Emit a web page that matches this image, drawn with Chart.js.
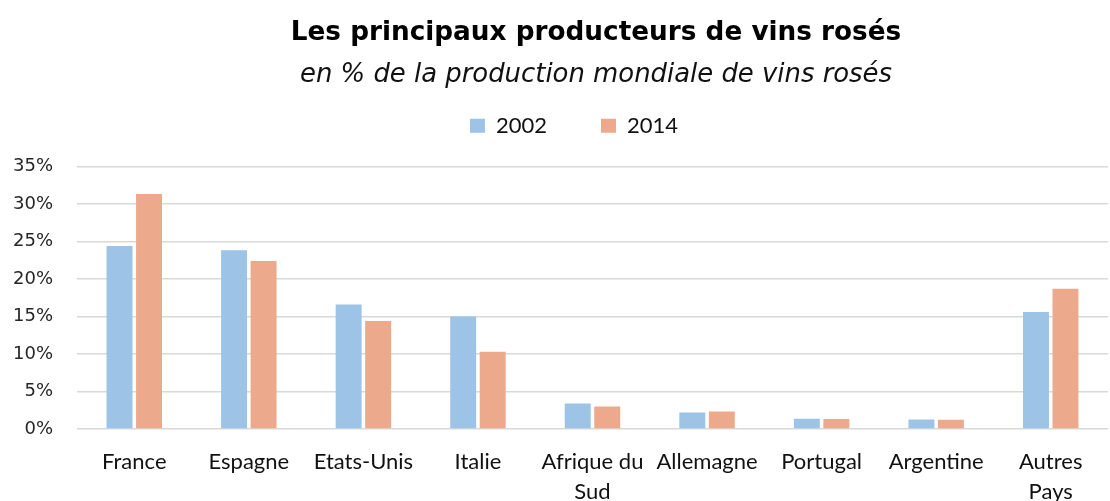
<!DOCTYPE html>
<html><head><meta charset="utf-8">
<script src="https://cdn.jsdelivr.net/npm/chart.js@4"></script>
<style>html,body{margin:0;padding:0;background:#fff}#wrap{width:1110px;height:501px}</style>
</head><body><div id="wrap"><canvas id="c" width="1110" height="501"></canvas></div>
<script>
const categories = ["France","Espagne","Etats-Unis","Italie",["Afrique du","Sud"],"Allemagne","Portugal","Argentine",["Autres","Pays"]];
const values2002 = [24.4,23.85,16.6,15.0,3.4,2.2,1.37,1.28,15.6];
const values2014 = [31.35,22.4,14.4,10.3,3.0,2.35,1.33,1.24,18.7];
const seriesNames = ["2002","2014"];
const yTicks = [0,5,10,15,20,25,30,35];

// small layout nudges for the header blocks (dx, dy in px)
const headerShift = {title: [36, 0], subtitle: [36, 12], legend: [14, -20]};
const shiftPlugin = {
  id: 'headerShift',
  afterLayout(chart) {
    chart.boxes.forEach(b => {
      if (b.position !== 'top') return;
      let key = 'subtitle';
      if (b === chart.legend) key = 'legend';
      else if (b === chart.titleBlock) key = 'title';
      const [dx, dy] = headerShift[key];
      b.left += dx; b.right += dx; b.top += dy; b.bottom += dy;
    });
  }
};

new Chart(document.getElementById('c'), {
  type: 'bar',
  data: {
    labels: categories,
    datasets: [
      {label: seriesNames[0], data: values2002, backgroundColor: '#9DC3E6', categoryPercentage: 0.515, barPercentage: 0.88},
      {label: seriesNames[1], data: values2014, backgroundColor: '#EDA98B', categoryPercentage: 0.515, barPercentage: 0.88}
    ]
  },
  plugins: [shiftPlugin],
  options: {
    responsive: false,
    animation: false,
    layout: {padding: {left: 12, right: 2, top: 0, bottom: 0}},
    plugins: {
      title: {display: true, text: 'Les principaux producteurs de vins rosés', color: '#000',
        font: {family: 'DejaVu Sans', size: 26.3, weight: 'bold', lineHeight: 1.2}, padding: {top: 17, bottom: 0}},
      subtitle: {display: true, text: 'en % de la production mondiale de vins rosés', color: '#111',
        font: {family: 'DejaVu Sans', size: 25.9, style: 'italic', lineHeight: 1.1}, padding: {top: 0, bottom: 3.6}},
      legend: {display: true, position: 'top',
        labels: {boxWidth: 15, boxHeight: 14, color: '#111', padding: 54,
          font: {family: 'Lato', size: 22}}},
      tooltip: {enabled: false}
    },
    scales: {
      x: {
        grid: {display: false, drawTicks: false},
        border: {display: false},
        ticks: {color: '#111', padding: 18, maxRotation: 0, autoSkip: false,
          font: {family: 'Lato', size: 22, lineHeight: 1.364}},
        afterFit(scale){ scale.height = 72; }
      },
      y: {
        min: 0, max: 35,
        afterBuildTicks(scale){ scale.ticks = yTicks.map(v => ({value: v})); },
        afterFit(scale){ scale.width = 65; },
        grid: {color: '#D9D9D9', lineWidth: 1.5, drawTicks: false},
        border: {display: false},
        ticks: {color: '#262626', padding: 24, callback: v => v + '%',
          font: {family: 'DejaVu Sans', size: 18}}
      }
    }
  }
});
</script></body></html>
